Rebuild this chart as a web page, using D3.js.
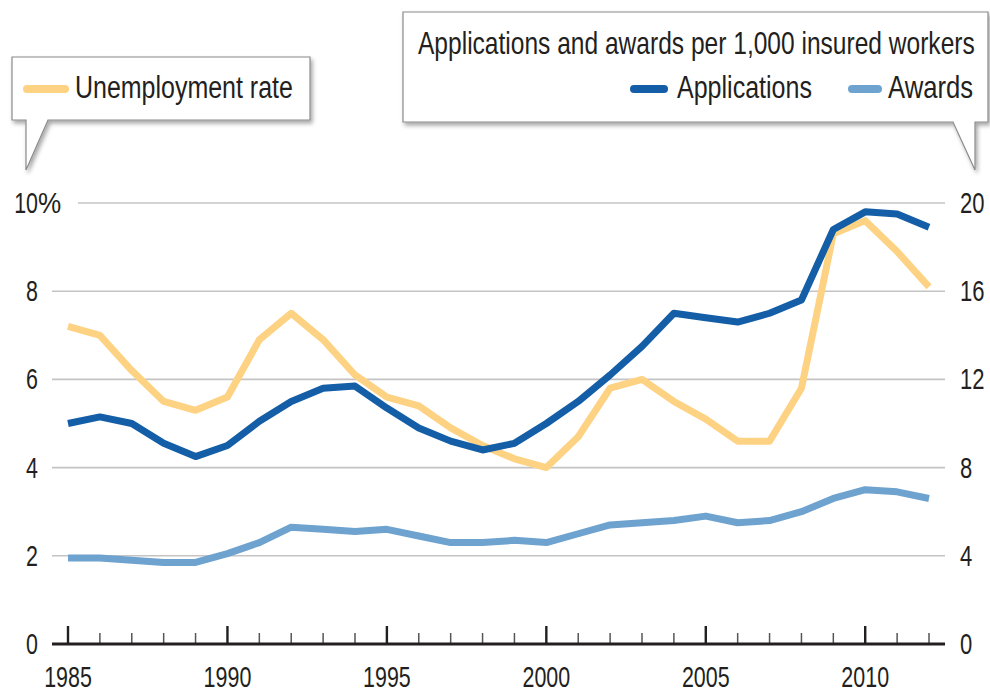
<!DOCTYPE html>
<html>
<head>
<meta charset="utf-8">
<script src="https://cdn.jsdelivr.net/npm/d3@7"></script>
<style>
  body { margin: 0; background: #fff; }
  svg { display: block; }
  text { font-family: "Liberation Sans", Arial, sans-serif; fill: #231f20; }
</style>
</head>
<body>
<div id="vis"></div>
<script>
// years 1985-2012
var years = d3.range(1985, 2013);

// unemployment rate, percent (left axis)
var unemployment = [7.2, 7.0, 6.2, 5.5, 5.3, 5.6, 6.9, 7.5, 6.9, 6.1,
                    5.6, 5.4, 4.9, 4.5, 4.2, 4.0, 4.7, 5.8, 6.0, 5.5,
                    5.1, 4.6, 4.6, 5.8, 9.3, 9.6, 8.9, 8.1];

// applications per 1,000 insured workers (right axis)
var applications = [10.0, 10.3, 10.0, 9.1, 8.5, 9.0, 10.1, 11.0, 11.6, 11.7,
                    10.7, 9.8, 9.2, 8.8, 9.1, 10.0, 11.0, 12.2, 13.5, 15.0,
                    14.8, 14.6, 15.0, 15.6, 18.8, 19.6, 19.5, 18.9];

// awards per 1,000 insured workers (right axis)
var awards = [3.9, 3.9, 3.8, 3.7, 3.7, 4.1, 4.6, 5.3, 5.2, 5.1,
              5.2, 4.9, 4.6, 4.6, 4.7, 4.6, 5.0, 5.4, 5.5, 5.6,
              5.8, 5.5, 5.6, 6.0, 6.6, 7.0, 6.9, 6.6];

var leftTicks = [0, 2, 4, 6, 8, 10];
var rightTicks = [0, 4, 8, 12, 16, 20];
var majorYears = [1985, 1990, 1995, 2000, 2005, 2010];

var colors = {
    unemployment: '#fed283',
    applications: '#135ea6',
    awards: '#6ea2cf'
};

var width = 990;
var height = 692;

var svg = d3.select('#vis')
            .append('svg')
            .attr('width', width)
            .attr('height', height);

var defs = svg.append('defs');
var shadow = defs.append('filter')
                 .attr('id', 'shadow')
                 .attr('x', '-10%').attr('y', '-10%')
                 .attr('width', '130%').attr('height', '140%');
shadow.append('feDropShadow')
      .attr('dx', 2).attr('dy', 3)
      .attr('stdDeviation', 2)
      .attr('flood-color', '#000')
      .attr('flood-opacity', 0.35);

var xScale = d3.scaleLinear()
               .domain([1985, 2012])
               .range([68, 929]);

var yLeft = d3.scaleLinear()
              .domain([0, 10])
              .range([644, 203]);

var yRight = d3.scaleLinear()
               .domain([0, 20])
               .range([644, 203]);

var gridLeft = 52;
var gridRight = 945;

// condensed looking text: squeeze horizontally around the anchor point
function label(parent, x, y, str, size, anchor, sx) {
    return parent.append('text')
        .attr('transform', 'translate(' + x + ',' + y + ') scale(' + sx + ',1)')
        .attr('text-anchor', anchor)
        .style('font-size', size + 'px')
        .text(str);
}

// left tick labels
var leftLabels = svg.append('g');
leftTicks.forEach(function(t) {
    label(leftLabels, 38, yLeft(t) + 10, t, 29, 'end', 0.74);
    if (t === 10) {
        label(leftLabels, 38, yLeft(t) + 10, '%', 29, 'start', 0.9);
    }
});

// right tick labels
var rightLabels = svg.append('g');
rightTicks.forEach(function(t) {
    label(rightLabels, 960, yRight(t) + 10, t, 29, 'start', 0.76);
});

// gridlines
svg.append('g')
   .selectAll('line')
   .data(leftTicks.filter(function(d) { return d > 0; }))
   .enter()
   .append('line')
   .attr('x1', function(d) { return d === 10 ? 78 : gridLeft; })
   .attr('x2', gridRight)
   .attr('y1', function(d) { return yLeft(d); })
   .attr('y2', function(d) { return yLeft(d); })
   .attr('stroke', '#c4c4c4')
   .attr('stroke-width', 1.6);

// x axis
var xAxisG = svg.append('g');
xAxisG.selectAll('line.tick')
      .data(years)
      .enter()
      .append('line')
      .attr('class', 'tick')
      .attr('x1', function(d) { return xScale(d); })
      .attr('x2', function(d) { return xScale(d); })
      .attr('y1', yLeft(0))
      .attr('y2', function(d) { return majorYears.indexOf(d) >= 0 ? yLeft(0) - 18 : yLeft(0) - 11; })
      .attr('stroke', function(d) { return majorYears.indexOf(d) >= 0 ? '#231f20' : '#555'; })
      .attr('stroke-width', function(d) { return majorYears.indexOf(d) >= 0 ? 2.4 : 1.5; });

xAxisG.append('line')
      .attr('x1', gridLeft)
      .attr('x2', gridRight)
      .attr('y1', yLeft(0))
      .attr('y2', yLeft(0))
      .attr('stroke', '#231f20')
      .attr('stroke-width', 3);

majorYears.forEach(function(yr) {
    label(xAxisG, xScale(yr), 687, yr, 29, 'middle', 0.74);
});

// lines
var lineLeft = d3.line()
                 .x(function(d, i) { return xScale(years[i]); })
                 .y(function(d) { return yLeft(d); });
var lineRight = d3.line()
                  .x(function(d, i) { return xScale(years[i]); })
                  .y(function(d) { return yRight(d); });

svg.append('path')
   .attr('d', lineRight(awards))
   .attr('fill', 'none')
   .attr('stroke', colors.awards)
   .attr('stroke-width', 7)
   .attr('stroke-linejoin', 'round');

svg.append('path')
   .attr('d', lineLeft(unemployment))
   .attr('fill', 'none')
   .attr('stroke', colors.unemployment)
   .attr('stroke-width', 7)
   .attr('stroke-linejoin', 'round');

svg.append('path')
   .attr('d', lineRight(applications))
   .attr('fill', 'none')
   .attr('stroke', colors.applications)
   .attr('stroke-width', 7)
   .attr('stroke-linejoin', 'round');

// callout boxes
svg.append('path')
   .attr('d', 'M12,57 H310 V120 H48 L26,170 V120 H12 Z')
   .attr('fill', '#fff')
   .attr('stroke', '#8a8a8a')
   .attr('stroke-width', 1.2)
   .attr('filter', 'url(#shadow)');

svg.append('path')
   .attr('d', 'M403,12 H988 V122 H975 V170 L953,122 H403 Z')
   .attr('fill', '#fff')
   .attr('stroke', '#8a8a8a')
   .attr('stroke-width', 1.2)
   .attr('filter', 'url(#shadow)');

function swatch(x1, x2, y, color) {
    svg.append('line')
       .attr('x1', x1).attr('x2', x2)
       .attr('y1', y).attr('y2', y)
       .attr('stroke', color)
       .attr('stroke-width', 8)
       .attr('stroke-linecap', 'round');
}

// legend text squeezed to the widths of the reference
function legendText(x, y, str, len) {
    var t = svg.append('text')
       .attr('transform', 'translate(' + x + ',' + y + ')')
       .style('font-size', '31px')
       .text(str);
    var natural = t.node().getComputedTextLength();
    t.attr('transform', 'translate(' + x + ',' + y + ') scale(' + (len / natural) + ',1)');
}

swatch(27, 65, 89, colors.unemployment);
legendText(75, 98, 'Unemployment rate', 218);

legendText(418, 54, 'Applications and awards per 1,000 insured workers', 557);

swatch(634, 664, 89, colors.applications);
legendText(677, 98, 'Applications', 135);

swatch(852, 878, 89, colors.awards);
legendText(888, 98, 'Awards', 85);
</script>
</body>
</html>
